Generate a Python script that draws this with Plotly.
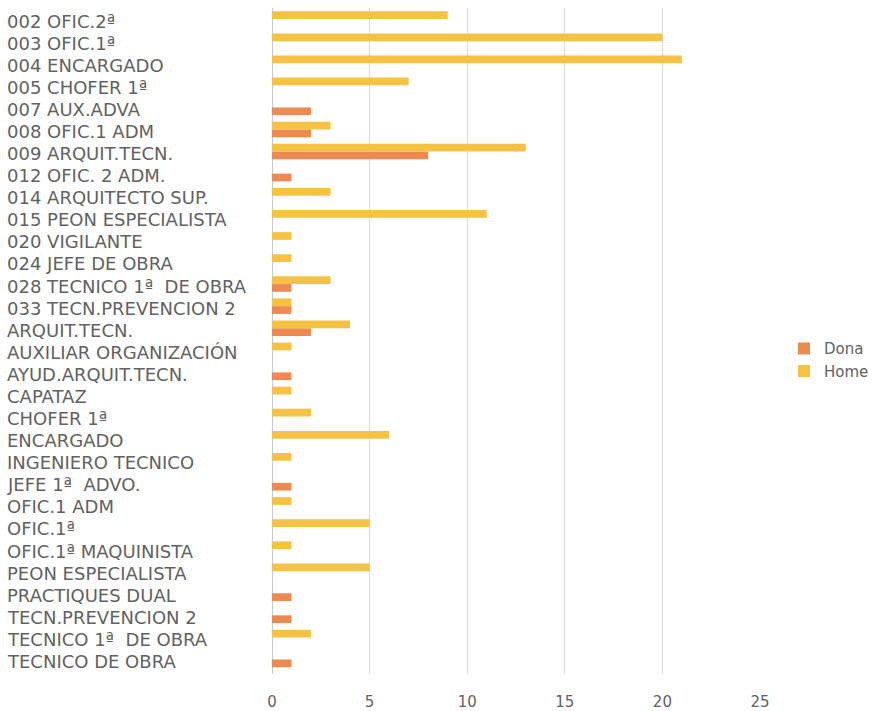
import plotly.graph_objects as go

# Job categories, listed top to bottom
categories = [
    "002 OFIC.2ª", "003 OFIC.1ª", "004 ENCARGADO", "005 CHOFER 1ª",
    "007 AUX.ADVA", "008 OFIC.1 ADM", "009 ARQUIT.TECN.", "012 OFIC. 2 ADM.",
    "014 ARQUITECTO SUP.", "015 PEON ESPECIALISTA", "020 VIGILANTE",
    "024 JEFE DE OBRA", "028 TECNICO 1ª  DE OBRA", "033 TECN.PREVENCION 2",
    "ARQUIT.TECN.", "AUXILIAR ORGANIZACIÓN", "AYUD.ARQUIT.TECN.", "CAPATAZ",
    "CHOFER 1ª", "ENCARGADO", "INGENIERO TECNICO", "JEFE 1ª  ADVO.",
    "OFIC.1 ADM", "OFIC.1ª", "OFIC.1ª MAQUINISTA", "PEON ESPECIALISTA",
    "PRACTIQUES DUAL", "TECN.PREVENCION 2", "TECNICO 1ª  DE OBRA",
    "TECNICO DE OBRA",
]

dona = [0, 0, 0, 0, 2, 2, 8, 1, 0, 0, 0, 0, 1, 1, 2, 0, 1, 0, 0, 0,
        0, 1, 0, 0, 0, 0, 1, 1, 0, 1]
home = [9, 20, 21, 7, 0, 3, 13, 0, 3, 11, 1, 1, 3, 1, 4, 1, 0, 1, 2, 6,
        1, 0, 1, 5, 1, 5, 0, 0, 2, 0]

x_ticks = [0, 5, 10, 15, 20, 25]

DONA_COLOR = "#EC8A52"
HOME_COLOR = "#F5C244"
TEXT_COLOR = "#626262"
FONT = "DejaVu Sans"

W, H = 877, 711
M_L, M_R, M_T, M_B = 272, 117, 8, 37
PLOT_W = W - M_L - M_R

fig = go.Figure()
fig.add_trace(go.Bar(name="Dona", y=categories, x=dona, orientation="h",
                     marker=dict(color=DONA_COLOR, line=dict(width=0))))
fig.add_trace(go.Bar(name="Home", y=categories, x=home, orientation="h",
                     marker=dict(color=HOME_COLOR, line=dict(width=0))))

# Left-aligned category labels in the left margin
label_x = (5 - M_L) / PLOT_W
for cat in categories:
    fig.add_annotation(
        x=label_x, xref="paper", y=cat, yref="y",
        text=cat, showarrow=False, xanchor="left", yanchor="middle",
        yshift=-2, font=dict(family=FONT, size=18, color=TEXT_COLOR),
    )

fig.update_layout(
    width=W, height=H,
    margin=dict(l=M_L, r=M_R, t=M_T, b=M_B, autoexpand=False),
    paper_bgcolor="white", plot_bgcolor="white",
    barmode="group", bargap=0.3, bargroupgap=0.0,
    font=dict(family=FONT, color=TEXT_COLOR, size=14),
    legend=dict(x=(784 - M_L) / PLOT_W, y=0.472, xanchor="left", yanchor="middle",
                font=dict(size=15, color=TEXT_COLOR),
                itemwidth=30, tracegroupgap=2),
    showlegend=True,
)
fig.update_xaxes(
    range=[0, 25], tickvals=x_ticks, ticktext=[str(v) for v in x_ticks],
    showgrid=True, gridcolor="#DADADA", gridwidth=1,
    zeroline=True, zerolinecolor="#C8C8C8", zerolinewidth=1,
    showline=False, ticks="", ticklabelstandoff=17,
    tickfont=dict(size=15, color=TEXT_COLOR),
)
fig.update_yaxes(
    type="category", categoryorder="array",
    categoryarray=list(reversed(categories)),
    showgrid=False, showline=False, ticks="", showticklabels=False,
)

fig.write_html("out.html")
